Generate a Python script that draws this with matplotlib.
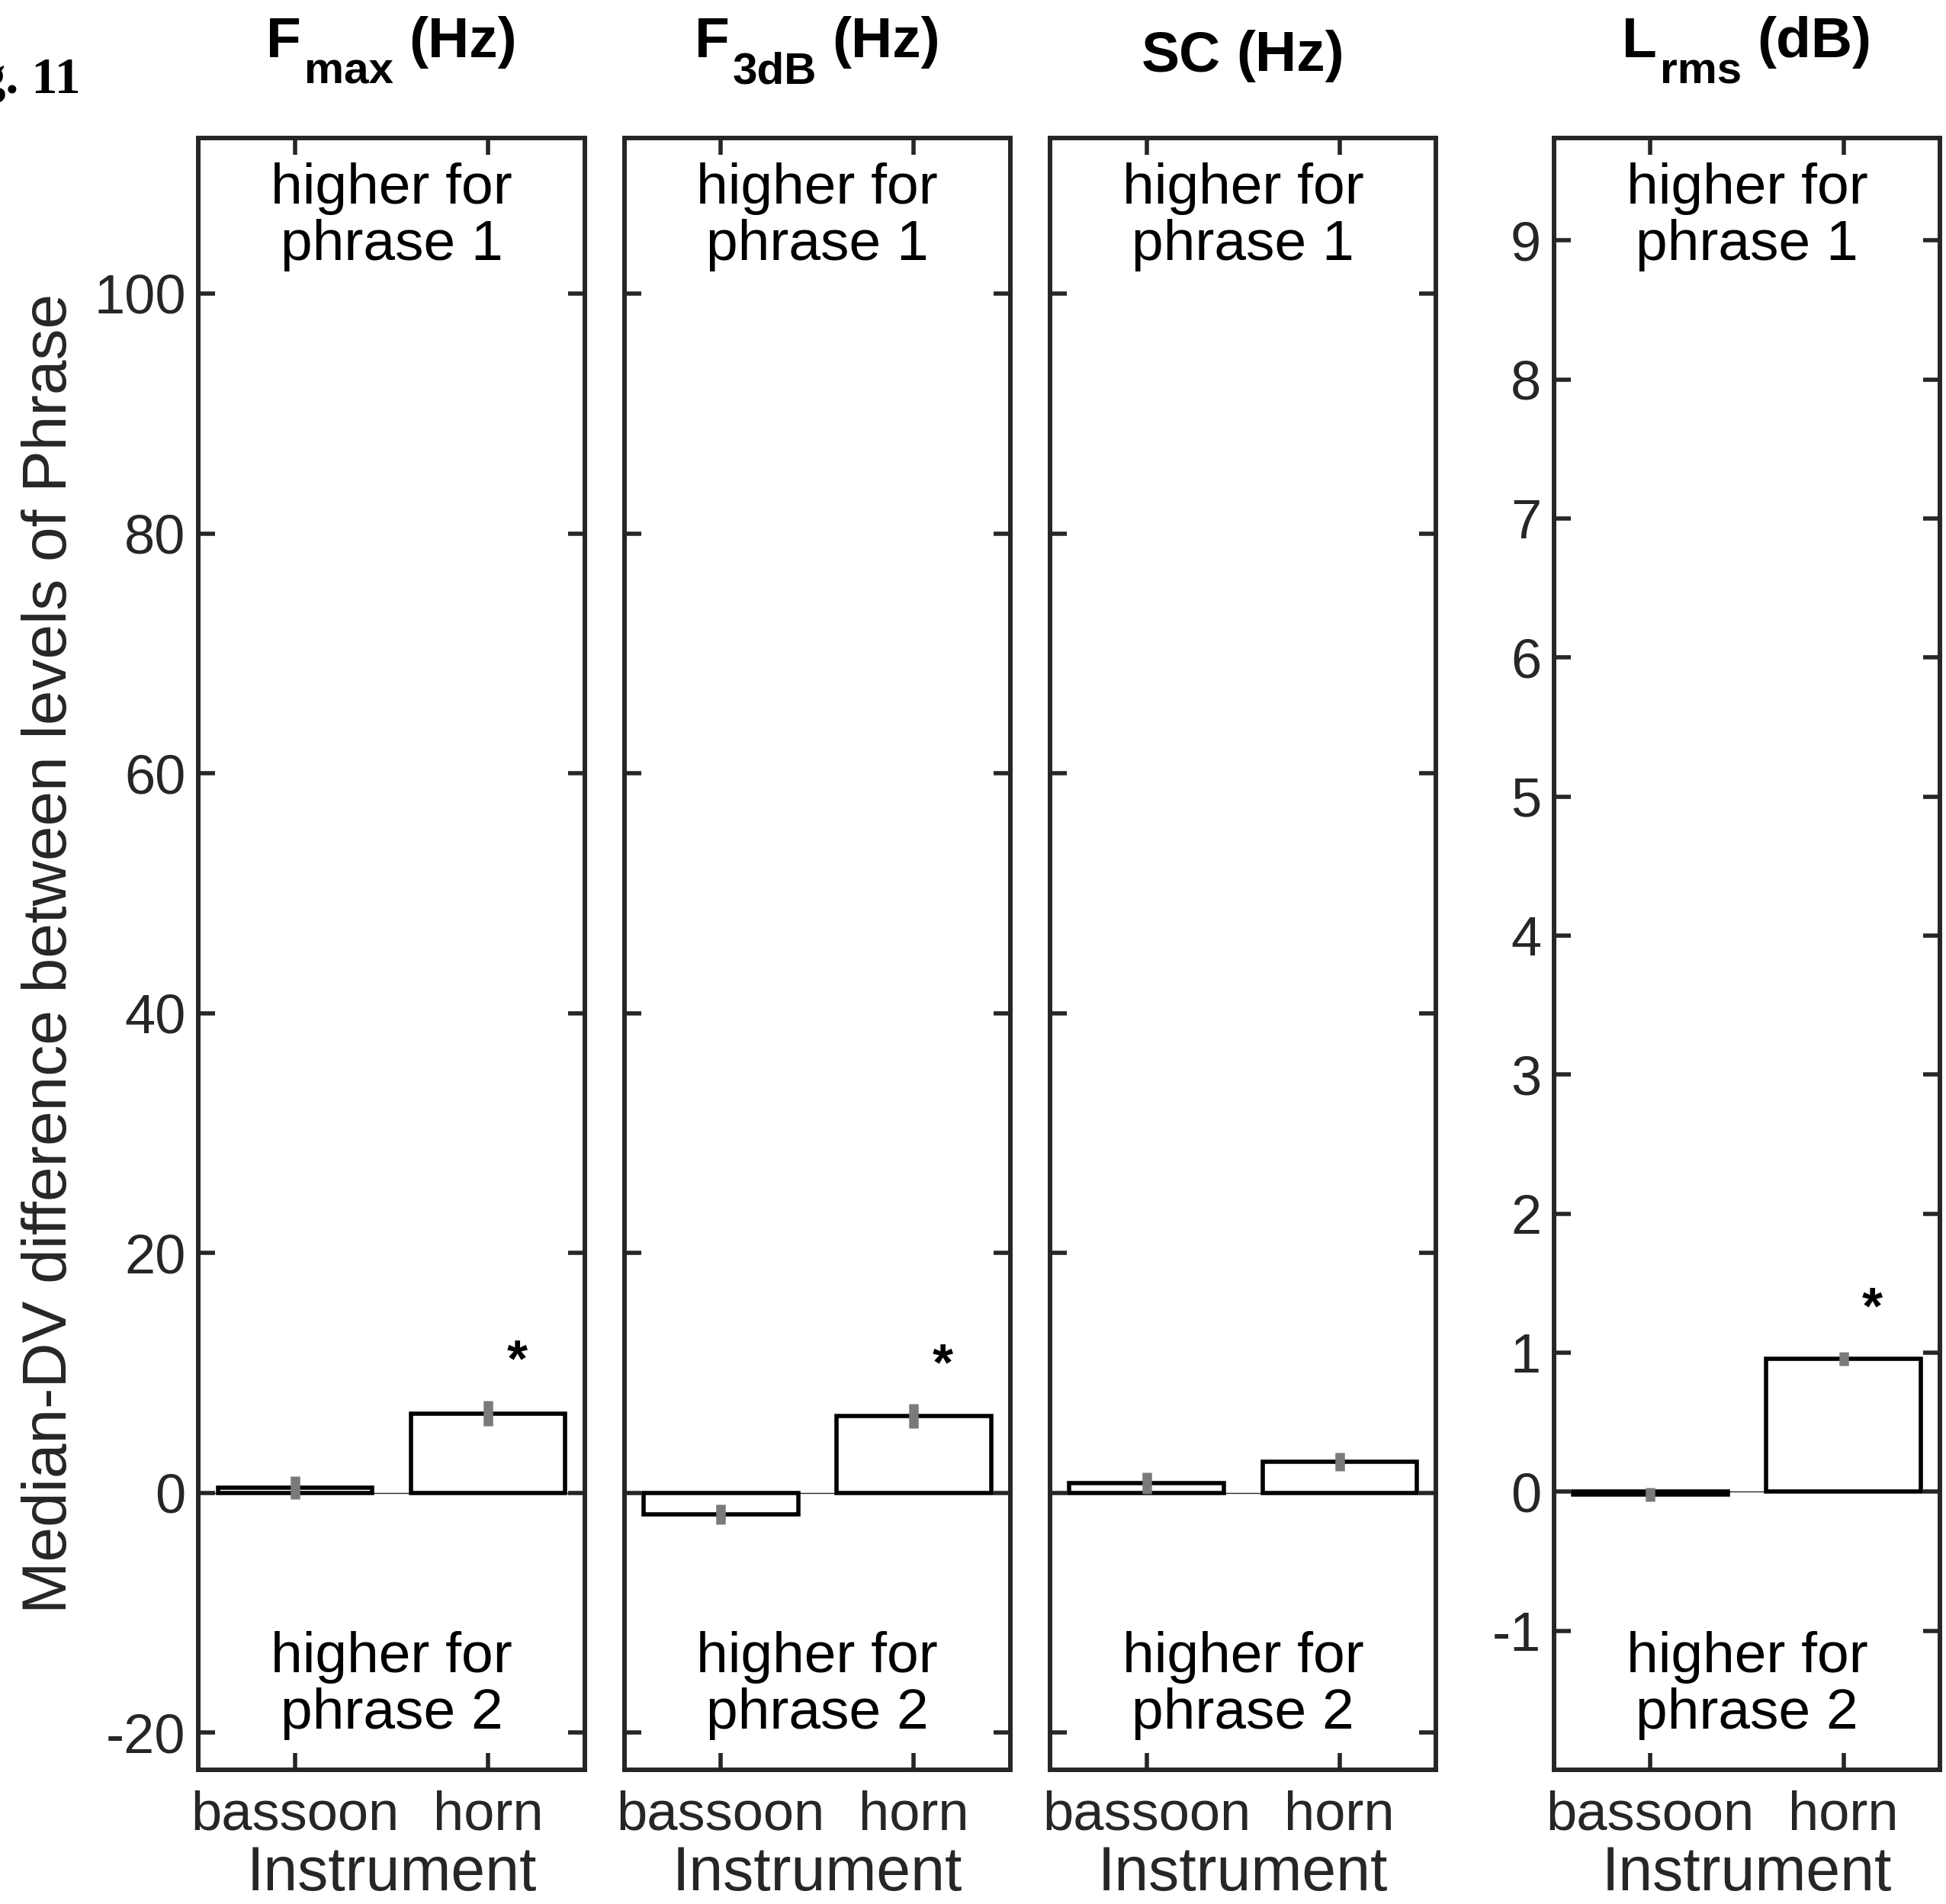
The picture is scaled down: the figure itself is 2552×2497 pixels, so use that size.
import matplotlib
matplotlib.use("Agg")
import matplotlib.pyplot as plt

plt.rcParams['font.family'] = ['Liberation Sans', 'DejaVu Sans']
plt.rcParams['axes.unicode_minus'] = False

# datos
instrumentos = ['bassoon', 'horn']
# titulo: (texto principal, subindice, unidades)
titulos = [('F', 'max', '(Hz)'), ('F', '3dB', '(Hz)'), ('SC', '', '(Hz)'), ('L', 'rms', '(dB)')]
fmax = [0.4, 6.6]
fmax_err = [0.95, 1.05]
f3db = [-1.8, 6.4]
f3db_err = [0.85, 1.0]
sc = [0.8, 2.6]
sc_err = [0.9, 0.75]
lrms = [-0.02, 0.955]
lrms_err = [0.05, 0.05]
estrellas_y = [10.9, 10.6, None, 1.31]   # asterisco sobre horn

valores = [fmax, f3db, sc, lrms]
errores = [fmax_err, f3db_err, sc_err, lrms_err]
ylims = [(-23.1, 113), (-23.1, 113), (-23.1, 113), (-2.0, 9.74)]
yticks_hz = [-20, 0, 20, 40, 60, 80, 100]
yticks_db = [-1, 0, 1, 2, 3, 4, 5, 6, 7, 8, 9]

gris = '#262626'
W, H = 2552, 2497
fig = plt.figure(figsize=(W / 100, H / 100), dpi=100)
lefts = [0.1020, 0.3208, 0.5396, 0.7985]
x = [1, 2]
ejes = []

for i in range(4):
    ax = fig.add_axes([lefts[i], 0.0705, 0.1984, 0.8572])
    ejes.append(ax)
    ax.axhline(0, color=gris, lw=1, zorder=1)
    ax.bar(x, valores[i], width=0.8, facecolor='white', edgecolor='black',
           linewidth=4, zorder=2)
    ax.errorbar(x, valores[i], yerr=errores[i], fmt='none', ecolor='#7a7a7a',
                elinewidth=9, capsize=0, zorder=3)
    if estrellas_y[i] is not None:
        ax.text(2.15, estrellas_y[i], '*', ha='center', va='center',
                fontsize=50, fontweight='bold')
    ax.set_xlim(0.5, 2.5)
    ax.set_ylim(*ylims[i])
    ax.set_xticks(x)
    ax.set_xticklabels(instrumentos)
    if i == 3:
        ax.set_yticks(yticks_db)
    else:
        ax.set_yticks(yticks_hz)
    if i in (1, 2):
        ax.set_yticklabels([])
    ax.tick_params(direction='in', length=16, width=4, color=gris,
                   labelcolor=gris, labelsize=52, top=True, right=True)
    ax.tick_params(axis='y', pad=12)
    ax.tick_params(axis='x', pad=19)
    for sp in ax.spines.values():
        sp.set_linewidth(4.3)
        sp.set_color(gris)
    ax.set_xlabel('Instrument', fontsize=58, color=gris, labelpad=4)
    ax.text(0.5, 0.985, 'higher for\nphrase 1', transform=ax.transAxes,
            ha='center', va='top', fontsize=54, linespacing=1.1)
    ax.text(0.5, 0.018, 'higher for\nphrase 2', transform=ax.transAxes,
            ha='center', va='bottom', fontsize=54, linespacing=1.1)
    if i == 0:
        ax.set_ylabel('Median-DV difference between levels of Phrase',
                      fontsize=59, color=gris, labelpad=14)

fig.text(0.0415, 0.951, 'Fig. 11', ha='right', va='baseline',
         family='Liberation Serif', fontweight='bold', fontsize=49)

# titulos con subindice grande (estilo MATLAB)
fig.canvas.draw()
r = fig.canvas.get_renderer()
for ax, (base, sub, unid) in zip(ejes, titulos):
    pos = ax.get_position()
    centro = (pos.x0 + pos.x1) / 2 * W
    base_y = 75 if sub else 93          # linea base en pixeles desde arriba
    partes = [(base, 54, 0), (sub, 42, 35), (unid, 54, 0)]
    partes = [p for p in partes if p[0]]
    textos = []
    anchos = []
    for txt, fs, dy in partes:
        t = fig.text(0, 1 - (base_y + dy) / H, txt, fontsize=fs,
                     fontweight='bold', ha='left', va='baseline')
        textos.append(t)
        anchos.append(t.get_window_extent(r).width)
    huecos = [4, 20] if sub else [20]
    total = sum(anchos) + sum(huecos)
    xp = centro - total / 2
    for k, t in enumerate(textos):
        t.set_x(xp / W)
        xp += anchos[k] + (huecos[k] if k < len(huecos) else 0)

fig.savefig('out.png', dpi=100)
